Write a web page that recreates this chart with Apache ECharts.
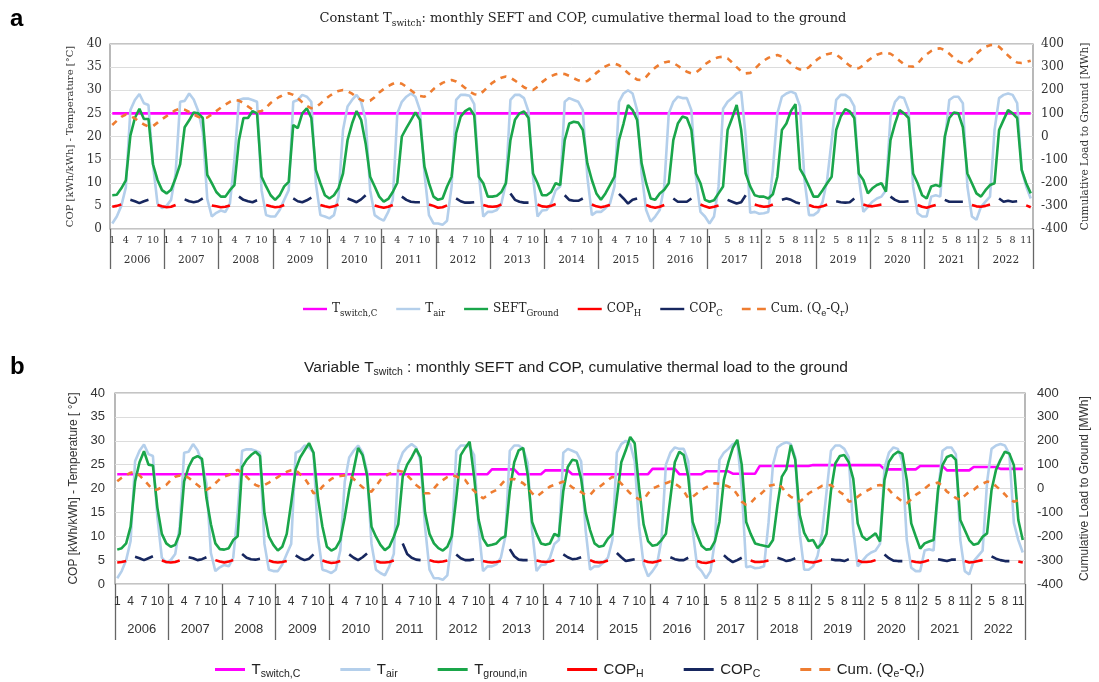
<!DOCTYPE html>
<html><head><meta charset="utf-8">
<script src="https://cdn.jsdelivr.net/npm/echarts@6/dist/echarts.min.js"></script>
<style>html,body{margin:0;padding:0;background:#fff}#c{width:1099px;height:682px}</style>
</head><body><div id="c"></div><script>
// ---------- DATA ----------
const years = [2006,2007,2008,2009,2010,2011,2012,2013,2014,2015,2016,2017,2018,2019,2020,2021,2022];
const monthLabelSets = [[1,4,7,10],[1,4,7,10],[1,4,7,10],[1,4,7,10],[1,4,7,10],[1,4,7,10],[1,4,7,10],[1,4,7,10],[1,4,7,10],[1,4,7,10],[1,4,7,10],[1,5,8,11],[2,5,8,11],[2,5,8,11],[2,5,8,11],[2,5,8,11],[2,5,8,11]];

// air temperature (same in both panels), one row per year Jan..Dec
const tairByYear = [
 [1.2,2.7,5.0,9.0,25.7,27.9,29.2,27.2,26.8,14.0,5.5,4.5],
 [5.0,6.3,12.0,27.5,27.7,29.3,28.0,25.5,21.0,6.5,2.7,3.5],
 [4.0,3.7,5.5,15.0,27.9,28.2,28.2,27.9,27.5,8.4,3.0,2.7],
 [2.7,4.1,6.3,8.4,27.5,27.9,29.0,28.6,27.5,9.9,3.0,2.7],
 [2.3,3.0,7.0,21.4,26.5,27.9,29.0,27.5,23.6,8.4,3.0,2.3],
 [1.8,3.7,6.3,25.0,27.5,28.6,29.3,28.6,25.7,12.0,3.0,1.2],
 [1.2,0.9,1.8,9.2,27.9,29.0,29.0,28.8,27.0,12.0,2.7,3.7],
 [3.7,4.1,5.5,9.9,27.9,29.0,29.0,28.3,25.4,11.3,2.7,4.0],
 [4.1,5.5,8.4,9.2,27.5,28.3,27.9,27.5,25.7,11.3,3.0,3.7],
 [3.7,4.5,5.5,9.2,27.5,29.3,30.0,29.3,25.7,12.0,4.1,1.6],
 [2.7,4.1,9.2,25.0,27.5,28.6,28.3,28.3,25.7,11.3,3.7,2.7],
 [1.2,2.7,9.2,26.0,27.5,28.3,29.3,29.7,20.0,3.5,3.7,3.3],
 [3.4,3.7,12.8,25.0,28.6,29.3,29.7,29.3,26.5,10.6,3.0,3.0],
 [3.7,5.9,10.6,19.2,27.9,29.0,29.0,28.3,26.5,11.3,3.7,4.8],
 [5.9,6.6,7.0,8.4,24.3,27.5,28.6,28.3,25.7,9.2,3.4,2.7],
 [2.7,7.0,7.3,7.0,19.0,27.9,28.6,28.6,27.2,9.2,2.7,2.0],
 [4.8,5.9,7.0,21.4,28.3,29.0,29.3,29.0,27.2,12.8,9.2,6.6]
];
// panel a: SEFT ground
const seftByYear = [
 [7.3,7.4,8.8,10.5,20.2,24.0,26.0,23.8,23.8,14.0,10.6,8.4],
 [7.7,8.5,11.0,14.0,22.0,23.5,25.2,25.0,24.0,11.7,9.9,8.0],
 [7.0,7.0,8.4,9.5,19.2,24.0,24.0,25.5,25.0,11.3,9.2,7.3],
 [6.3,7.3,9.2,10.2,22.5,21.8,25.0,26.1,24.0,12.8,9.9,7.3],
 [6.6,7.3,8.8,12.0,19.2,22.8,25.5,23.6,18.5,11.3,9.2,7.0],
 [5.9,6.5,8.0,10.0,20.0,21.8,23.5,25.2,23.6,13.5,9.9,7.0],
 [6.3,6.6,9.2,11.3,20.7,24.3,25.5,26.1,24.6,11.3,9.9,7.0],
 [7.0,7.2,8.0,9.9,19.2,23.6,25.0,25.4,24.0,12.0,9.9,7.3],
 [7.3,8.0,9.9,9.5,19.2,22.8,23.2,23.0,21.4,14.2,10.6,7.7],
 [6.3,7.7,9.5,11.3,19.2,22.8,26.8,25.7,23.6,14.2,9.9,6.6],
 [6.3,7.7,8.5,9.9,19.2,22.8,24.3,24.0,21.4,12.0,9.9,6.3],
 [5.9,6.2,7.7,9.2,21.4,24.0,26.8,21.4,12.0,9.2,7.3,7.0],
 [7.0,6.6,7.5,11.3,21.4,22.8,25.5,27.0,13.0,11.3,9.2,7.0],
 [7.0,8.4,9.9,11.3,21.4,24.3,25.9,25.4,24.0,12.0,10.6,7.7],
 [8.8,9.5,9.9,8.1,19.2,22.8,25.7,25.0,24.0,12.0,9.9,7.3],
 [6.6,9.2,9.5,9.2,20.0,24.0,25.2,25.0,22.0,12.0,9.9,7.7],
 [7.0,8.4,9.5,9.9,21.4,23.6,25.7,25.0,24.0,12.8,9.9,7.7]
];
// panel b: T ground,in
const tgroundByYear = [
 [7.2,7.5,8.5,12.0,21.5,25.5,27.8,25.0,24.8,16.0,10.5,8.5],
 [7.8,8.2,10.5,21.5,24.5,26.3,26.8,26.2,18.0,12.5,8.5,7.3],
 [7.2,7.5,9.2,10.0,24.5,26.0,27.0,27.7,26.8,14.8,9.9,8.2],
 [7.0,7.8,10.5,17.0,24.0,26.5,28.0,29.5,27.5,18.0,12.0,7.8],
 [7.0,7.5,9.2,14.0,19.7,23.9,28.5,27.0,22.8,12.0,9.9,8.2],
 [7.1,7.8,9.9,12.5,22.5,25.0,26.5,28.3,26.5,15.0,10.5,8.5],
 [7.5,7.0,7.8,10.0,18.0,27.0,28.5,29.8,22.5,13.5,9.5,8.0],
 [8.2,8.5,9.5,10.0,19.5,25.5,28.0,28.5,23.0,13.0,10.5,8.5],
 [8.2,8.5,10.5,10.0,19.5,24.5,26.0,25.8,22.0,15.0,11.3,8.5],
 [7.8,8.0,9.5,10.5,18.0,25.5,28.0,30.8,29.5,20.0,12.5,9.0],
 [8.0,8.2,9.2,10.5,18.0,25.5,27.7,27.0,22.5,13.0,10.3,8.0],
 [7.2,7.3,9.0,13.0,21.8,25.5,28.5,30.2,25.0,13.0,10.5,8.5],
 [8.2,8.0,7.8,9.2,16.5,22.5,24.0,29.1,26.0,14.5,10.7,9.0],
 [9.2,7.5,8.5,10.5,19.5,25.3,26.8,27.0,25.5,22.0,12.7,10.0],
 [9.2,9.9,10.6,8.9,21.8,25.6,27.0,27.7,27.3,21.8,12.7,10.0],
 [7.4,8.5,8.9,9.2,19.7,24.9,26.6,27.0,26.0,13.4,11.3,9.2],
 [8.2,8.5,9.9,10.6,19.7,23.9,26.0,27.7,27.3,24.9,13.4,9.2]
];
// T switch as runs [value, number of months]
const tswitchARuns = [[25,204]];
const tswitchBRuns = [[23,84],[24,6],[23,6],[23.8,6],[23,18],[24.1,6],[23,6],[23.6,6],[23.1,6],[24.7,12],[24.9,16],[24.0,8],[24.7,6],[23.8,6],[24.5,6],[24.1,6]];
// COP heating: Jan, Feb, Mar, Nov, Dec per year
const copHMonths = [1,2,3,11,12];
const copHA = [[4.8,5.0,5.3,5.2,4.9],[4.7,4.8,5.2,5.1,4.9],[4.7,4.8,5.1,5.2,4.9],[4.7,4.8,5.2,5.2,4.9],[4.7,4.9,5.3,5.1,4.8],[4.6,4.8,5.2,5.3,5.0],[4.6,4.7,5.1,5.2,4.9],[4.8,4.9,5.3,5.3,4.9],[4.8,5.0,5.4,5.3,4.9],[4.7,4.9,5.2,5.2,4.8],[4.6,4.8,5.2,5.3,4.9],[4.6,4.8,5.1,5.3,5.0],[4.8,4.9,5.3,5.2,4.8],[4.7,4.9,5.3,5.3,5.0],[4.9,5.1,5.3,5.2,4.8],[4.6,4.9,5.2,5.2,4.9],[4.8,5.0,5.3,5.1,4.7]];
const copHB = [[4.5,4.6,4.8,4.9,4.6],[4.5,4.6,4.9,5.0,4.7],[4.5,4.7,5.0,4.9,4.6],[4.5,4.6,4.8,4.9,4.6],[4.4,4.5,4.8,4.8,4.5],[4.5,4.6,4.9,5.0,4.7],[4.6,4.7,4.9,4.8,4.6],[4.5,4.6,4.8,4.9,4.7],[4.6,4.7,5.0,5.0,4.6],[4.5,4.6,4.9,4.9,4.6],[4.5,4.7,5.0,4.8,4.5],[4.4,4.6,4.9,4.9,4.6],[4.6,4.7,4.9,4.8,4.6],[4.5,4.7,5.0,4.9,4.6],[4.6,4.7,5.0,4.8,4.6],[4.5,4.7,5.0,4.8,4.5],[4.6,4.8,5.0,4.7,4.5]];
// COP cooling: May..Sep per year
const copCMonths = [5,6,7,8,9];
const copCA = [[6.3,6.0,5.6,6.0,6.3],[6.4,6.0,5.8,6.0,6.6],[7.0,6.3,6.0,5.8,6.2],[6.6,6.0,5.8,6.2,6.8],[6.6,6.2,5.8,6.4,7.3],[7.0,6.3,5.9,5.8,5.8],[6.6,6.0,5.7,5.7,5.8],[7.7,6.3,5.9,5.7,5.7],[7.3,6.3,6.1,6.1,6.6],[7.6,6.6,5.5,6.3,6.6],[6.6,5.9,5.9,5.9,6.6],[6.3,5.9,5.5,5.8,7.3],[6.3,6.6,6.3,5.8,5.5],[6.0,5.8,5.7,5.8,6.6],[7.0,6.3,5.9,5.9,6.0],[6.3,5.9,5.9,5.9,5.9],[6.6,5.9,6.1,5.9,6.0]];
const copCB = [[5.7,5.4,5.0,5.4,5.8],[5.6,5.4,5.0,5.2,5.6],[6.3,5.5,5.2,5.1,5.3],[6.0,5.4,5.0,5.3,6.2],[6.2,5.5,5.0,5.6,6.4],[8.5,6.3,5.5,5.1,5.0],[6.2,5.4,5.0,5.0,5.2],[7.3,5.8,5.1,5.0,5.0],[6.2,5.6,5.2,5.3,5.6],[6.5,5.6,4.8,5.0,5.2],[5.6,5.2,5.0,5.0,5.5],[6.0,5.2,4.6,5.0,5.5],[5.5,5.2,4.8,5.0,5.4],[5.2,5.0,5.0,4.8,5.2],[6.2,5.4,4.9,4.8,4.8],[5.2,5.0,4.8,5.1,5.1],[5.8,5.3,5.0,4.8,4.8]];
// cumulative load to ground (MWh)
const cumAByYear = [
 [50,68,85,95,90,78,65,52,43,45,60,75],
 [88,102,114,120,116,106,95,85,79,82,95,110],
 [125,138,150,158,155,144,130,116,107,110,125,145],
 [160,172,182,187,180,165,148,132,122,126,142,160],
 [175,188,197,201,196,185,170,158,151,155,170,190],
 [205,218,228,233,228,215,200,185,175,172,185,205],
 [220,232,240,244,238,225,210,194,183,180,195,215],
 [232,245,254,259,254,242,228,213,203,201,215,235],
 [250,261,269,273,270,262,252,243,237,240,255,275],
 [290,303,312,316,308,292,275,258,246,244,258,280],
 [298,312,320,324,318,306,292,280,273,276,292,312],
 [325,336,343,345,338,320,300,282,273,275,292,312],
 [328,340,348,352,346,332,315,298,290,288,300,320],
 [336,348,356,360,354,340,322,306,297,295,308,328],
 [342,354,360,363,358,345,328,312,304,302,315,338],
 [355,370,379,381,374,358,340,325,316,318,335,358],
 [375,388,395,396,388,370,350,332,320,318,322,328]
];
const cumBByYear = [
 [30,45,56,66,70,55,36,15,-6,-4,5,15],
 [35,49,54,56,45,29,15,0,-6,5,22,40],
 [50,56,68,78,65,49,30,15,8,15,25,36],
 [48,60,70,76,78,60,43,15,-20,-15,8,25],
 [40,49,52,55,56,40,22,5,-10,-13,10,36],
 [50,62,70,74,70,55,36,15,0,-20,-20,0],
 [22,35,48,56,50,42,36,10,-10,-27,-41,-30],
 [-15,-6,15,36,38,40,32,22,5,-20,-34,-20],
 [-5,8,15,22,29,20,5,-6,-15,-27,-27,-6],
 [5,20,35,49,40,20,0,-20,-35,-45,-48,-20],
 [0,8,15,22,29,20,8,-10,-41,-35,-20,-6],
 [5,15,22,20,15,8,0,-25,-55,-69,-60,-40],
 [-27,-10,11,15,20,5,-20,-35,-45,-55,-40,-20],
 [-10,0,11,13,15,0,-15,-27,-55,-50,-35,-20],
 [-10,0,11,15,10,-5,-27,-40,-55,-62,-45,-27],
 [-15,0,15,20,25,10,-13,-25,-40,-48,-30,-13],
 [-5,10,20,29,25,10,-6,-25,-45,-55,-50,-48]
];

// ---------- BUILD ----------
const N = years.length * 12;
const monthCats = [];
years.forEach(() => { for (let m = 1; m <= 12; m++) monthCats.push(String(m)); });
const shown = new Array(N).fill(false);
monthLabelSets.forEach((set, yi) => set.forEach(m => { shown[yi * 12 + m - 1] = true; }));
const flat = a => a.reduce((r, x) => r.concat(x), []);
const fromRuns = runs => { const r = []; runs.forEach(([v, n]) => { for (let i = 0; i < n; i++) r.push(v); }); return r; };
const place = (perYear, months) => { const r = new Array(N).fill(null); perYear.forEach((vals, yi) => vals.forEach((v, k) => { r[yi * 12 + months[k] - 1] = v; })); return r; };

const serif = "'DejaVu Serif', 'Liberation Serif', serif";
const sans = "'Liberation Sans', Arial, sans-serif";
const C = {ts:'#ff00ff', air:'#b4cfeb', grn:'#1aa64a', red:'#ff0000', navy:'#17275f', org:'#ee7d31'};

function mkSeries(prefix, xi, yi, tsw, green) {
  const base = {type:'line', symbol:'none', showSymbol:false, xAxisIndex:xi, connectNulls:false};
  return [
    Object.assign({}, base, {name:prefix+'Ts', yAxisIndex:yi, data:tsw, lineStyle:{color:C.ts,width:2.6}, itemStyle:{color:C.ts}}),
    Object.assign({}, base, {name:prefix+'Air', yAxisIndex:yi, data:flat(tairByYear), lineStyle:{color:C.air,width:2.6}, itemStyle:{color:C.air}}),
    Object.assign({}, base, {name:prefix+'G', yAxisIndex:yi, data:green, lineStyle:{color:C.grn,width:2.6}, itemStyle:{color:C.grn}}),
    Object.assign({}, base, {name:prefix+'CH', yAxisIndex:yi, data:place(prefix==='a'?copHA:copHB, copHMonths), lineStyle:{color:C.red,width:2.6}, itemStyle:{color:C.red}}),
    Object.assign({}, base, {name:prefix+'CC', yAxisIndex:yi, data:place(prefix==='a'?copCA:copCB, copCMonths), lineStyle:{color:C.navy,width:2.6}, itemStyle:{color:C.navy}}),
    Object.assign({}, base, {name:prefix+'Cum', yAxisIndex:yi+1, data:flat(prefix==='a'?cumAByYear:cumBByYear), lineStyle:{color:C.org,width:2.6,type:[6,6]}, itemStyle:{color:C.org}})
  ];
}

const legendText = {
  aTs:'{m|T}{s|switch,C}', aAir:'{m|T}{s|air}', aG:'{m|SEFT}{s|Ground}', aCH:'{m|COP}{s|H}', aCC:'{m|COP}{s|C}', aCum:'{m|Cum. (Q}{s|e}{m|-Q}{s|r}{m|)}',
  bTs:'{m|T}{s|switch,C}', bAir:'{m|T}{s|air}', bG:'{m|T}{s|ground,in}', bCH:'{m|COP}{s|H}', bCC:'{m|COP}{s|C}', bCum:'{m|Cum. (Q}{s|e}{m|-Q}{s|r}{m|)}'
};
const lineIcon = 'path://M0,0h30v3h-30z';
const dashIcon = 'path://M0,0h11v3h-11zM19,0h11v3h-11z';
function legendData(p) {
  return ['Ts','Air','G','CH','CC','Cum'].map(k => ({name:p+k, icon: k==='Cum'?dashIcon:lineIcon}));
}

function xAxes(gi, font, mSize, mMargin, ySize, yMargin, tickLen) {
  return [
    {gridIndex:gi, type:'category', data:monthCats, boundaryGap:true, position:'bottom',
     axisLine:{show:false, onZero:false}, axisTick:{show:false}, splitLine:{show:false},
     axisLabel:{interval:(i)=>shown[i], fontFamily:font, fontSize:mSize, color:'#333', margin:mMargin}},
    {gridIndex:gi, type:'category', data:years.map(String), boundaryGap:true, position:'bottom',
     axisLine:{show:false, onZero:false}, axisTick:{show:true, interval:0, length:tickLen, lineStyle:{color:'#666', width:1.3}},
     axisLabel:{interval:0, fontFamily:font, fontSize:ySize, color:'#333', margin:yMargin}, splitLine:{show:false}}
  ];
}

const option = {
  animation:false,
  backgroundColor:'#fff',
  grid:[
    {left:110, top:44, right:58, bottom:453, show:true, borderColor:'#8a8a8a', borderWidth:1.2, backgroundColor:'#fff'},
    {left:115, top:393, right:71, bottom:98, show:true, borderColor:'#8a8a8a', borderWidth:1.2, backgroundColor:'#fff'}
  ],
  xAxis: xAxes(0, serif, 9.5, 7, 10.5, 26, 40).concat(xAxes(1, sans, 12, 12, 13, 39, 56)),
  yAxis:[
    {gridIndex:0, type:'value', min:0, max:40, interval:5, position:'left',
     name:'COP [kWh/kWh] - Temperature [°C]', nameLocation:'middle', nameGap:22,
     nameTextStyle:{fontFamily:serif, fontSize:10, color:'#333'},
     axisLine:{show:false}, axisTick:{show:false},
     axisLabel:{fontFamily:serif, fontSize:12, color:'#333', margin:8},
     splitLine:{lineStyle:{color:'#dcdcdc', width:1}}},
    {gridIndex:0, type:'value', min:-400, max:400, interval:100, position:'right',
     name:'Cumulative Load to Ground [MWh]', nameLocation:'middle', nameGap:47,
     nameTextStyle:{fontFamily:serif, fontSize:10.5, color:'#333'},
     axisLine:{show:false}, axisTick:{show:false},
     axisLabel:{fontFamily:serif, fontSize:12, color:'#333', margin:8}, splitLine:{show:false}},
    {gridIndex:1, type:'value', min:0, max:40, interval:5, position:'left',
     name:'COP [kWh/kWh] - Temperature [ °C]', nameLocation:'middle', nameGap:30,
     nameTextStyle:{fontFamily:sans, fontSize:12, color:'#333'},
     axisLine:{show:false}, axisTick:{show:false},
     axisLabel:{fontFamily:sans, fontSize:13, color:'#333', margin:10},
     splitLine:{lineStyle:{color:'#dcdcdc', width:1}}},
    {gridIndex:1, type:'value', min:-400, max:400, interval:100, position:'right',
     name:'Cumulative Load to Ground [MWh]', nameLocation:'middle', nameGap:54,
     nameTextStyle:{fontFamily:sans, fontSize:12, color:'#333'},
     axisLine:{show:false}, axisTick:{show:false},
     axisLabel:{fontFamily:sans, fontSize:13, color:'#333', margin:12}, splitLine:{show:false}}
  ],
  legend:[
    {left:298, top:298, itemWidth:24, itemHeight:2.5, itemGap:19, data:legendData('a'),
     formatter:n=>legendText[n],
     textStyle:{rich:{m:{fontFamily:serif, fontSize:12, color:'#222', lineHeight:18}, s:{fontFamily:serif, fontSize:8.5, color:'#222', lineHeight:10, verticalAlign:'bottom'}}}},
    {left:210, top:657, itemWidth:33, itemHeight:3, itemGap:40, data:legendData('b'),
     formatter:n=>legendText[n],
     textStyle:{rich:{m:{fontFamily:sans, fontSize:15, color:'#222', lineHeight:20}, s:{fontFamily:sans, fontSize:10.5, color:'#222', lineHeight:11, verticalAlign:'bottom'}}}}
  ],
  graphic:[
    {type:'text', x:10, y:7, style:{text:'a', fontFamily:sans, fontSize:24, fontWeight:'bold', fill:'#000'}},
    {type:'text', x:10, y:355, style:{text:'b', fontFamily:sans, fontSize:24, fontWeight:'bold', fill:'#000'}},
    {type:'text', x:583, y:19, style:{text:'{m|Constant T}{s|switch}{m|: monthly SEFT and COP, cumulative thermal load to the ground}', align:'center', verticalAlign:'middle',
      rich:{m:{fontFamily:serif, fontSize:13, fill:'#222', lineHeight:18}, s:{fontFamily:serif, fontSize:9, fill:'#222', lineHeight:10, verticalAlign:'bottom'}}}},
    {type:'text', x:576, y:368, style:{text:'{m|Variable T}{s|switch}{m| : monthly SEFT and COP, cumulative thermal load to the ground}', align:'center', verticalAlign:'middle',
      rich:{m:{fontFamily:sans, fontSize:15.5, fill:'#222', lineHeight:20}, s:{fontFamily:sans, fontSize:10.5, fill:'#222', lineHeight:11, verticalAlign:'bottom'}}}}
  ],
  series: mkSeries('a', 0, 0, fromRuns(tswitchARuns), flat(seftByYear))
          .concat(mkSeries('b', 2, 2, fromRuns(tswitchBRuns), flat(tgroundByYear)))
};

const chart = echarts.init(document.getElementById('c'), null, {renderer:'canvas'});
chart.setOption(option);
</script></body></html>
